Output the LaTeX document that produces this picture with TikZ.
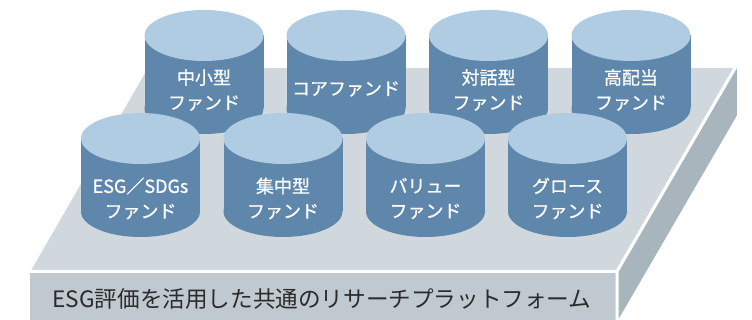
\documentclass[tikz,border=0pt]{standalone}
\usepackage{fontspec}
\setmainfont{Noto Sans CJK JP}
\newfontfamily\cyljp[FakeBold=0.6]{Noto Sans CJK JP}
\definecolor{platformtop}{HTML}{D0D8DE}
\definecolor{platformfront}{HTML}{BFC9CF}
\definecolor{platformside}{HTML}{A8B5BD}
\definecolor{cylbodycol}{HTML}{5F87AB}
\definecolor{cyltopcol}{HTML}{AFCCE2}
\definecolor{labelcol}{HTML}{2B2B2B}
\tikzset{
  face/.style={draw=white, line width=3pt, line join=miter},
  cylbody/.style={fill=cylbodycol},
  cyltop/.style={fill=cyltopcol},
  cyltext/.style={text=white, align=center, inner sep=0pt,
    font=\cyljp\fontsize{18}{25}\selectfont},
  basetext/.style={text=labelcol, inner sep=0pt,
    font=\fontsize{22.6}{24}\selectfont}
}
% one fund cylinder: name, centre x, top-ellipse y, text y, text
\newcommand\fundcyl[5]{%
  \fill[cylbody] ({#2-59.5},#3) rectangle ({#2+59.5},{#3+73});
  \fill[cylbody] (#2,{#3+73}) ellipse [x radius=59.5, y radius=25.5];
  \fill[cyltop] (#2,#3) ellipse [x radius=59.5, y radius=25.5];
  \node[cyltext] (#1) at (#2,#4) {#5};
}
\begin{document}
\begin{tikzpicture}[x=1pt,y=-1pt]
\useasboundingbox (0,0) rectangle (752,320);
\clip (0,0) rectangle (752,320);
% platform slab
\fill[face, fill=platformtop] (28.5,271.5) -- (147,66.5) -- (736,66.5) -- (617,271.5) -- cycle;
\fill[face, fill=platformfront] (28.5,271.5) rectangle (617,340);
\fill[face, fill=platformside] (617,271.5) -- (736,66.5) -- (738.5,66.5) -- (738.5,116) -- (617,325) -- cycle;
% back row
\fundcyl{smallcap}{204}{35.5}{90}{中小型\\ファンド}
\fundcyl{core}{346}{35.5}{89}{コアファンド}
\fundcyl{dialogue}{488.5}{35.5}{90}{対話型\\ファンド}
\fundcyl{dividend}{631}{35.5}{90}{高配当\\ファンド}
% front row
\fundcyl{esg}{140.5}{138.5}{198.5}{ESG／SDGs\\ファンド}
\fundcyl{focus}{283}{138.5}{198.5}{集中型\\ファンド}
\fundcyl{value}{425.5}{138.5}{198.5}{バリュー\\ファンド}
\fundcyl{growth}{567.5}{138.5}{198.5}{グロース\\ファンド}
% platform caption
\node[basetext] (platform) at (322,299) {ESG評価を活用した共通のリサーチプラットフォーム};
\end{tikzpicture}
\end{document}
